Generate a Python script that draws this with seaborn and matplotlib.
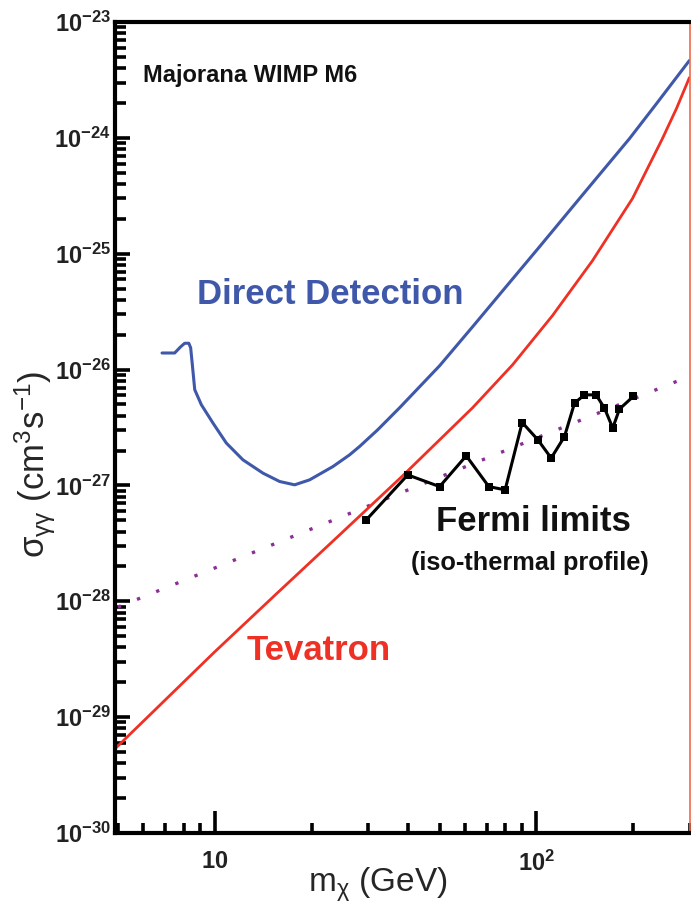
import numpy as np
import pandas as pd
import matplotlib
matplotlib.use('Agg')
import matplotlib.pyplot as plt
import matplotlib.ticker as mticker
import seaborn as sns

# curves (m in GeV, sigma in cm^3 s^-1)
dd_mass = [6.86, 7.51, 7.84, 8.07, 8.31, 8.42, 8.51, 8.67, 9.09, 9.88, 10.87, 12.24,
           14.13, 15.92, 17.72, 19.72, 23.3, 26.26, 28.2, 32.1, 37.55, 50.0, 63.3,
           82.4, 102.2, 136.0, 194.5, 236.0, 298.7]
dd_sigma = [1.39e-26, 1.39e-26, 1.574e-26, 1.687e-26, 1.687e-26, 1.542e-26, 1.146e-26,
            6.70e-27, 4.97e-27, 3.45e-27, 2.32e-27, 1.663e-27, 1.276e-27, 1.081e-27,
            1.012e-27, 1.117e-27, 1.455e-27, 1.837e-27, 2.168e-27, 3.02e-27, 4.68e-27,
            1.079e-26, 2.34e-26, 5.62e-26, 1.148e-25, 2.99e-25, 9.84e-25, 1.972e-24,
            4.65e-24]

tev_mass = [4.93, 10.0, 15.57, 24.44, 38.37, 47.5, 63.3, 84.3, 112.1, 149.3, 198.7,
            246.2, 272.2, 298.7]
tev_sigma = [5.42e-30, 3.66e-29, 1.163e-28, 3.74e-28, 1.21e-27, 2.154e-27, 4.68e-27,
             1.10e-26, 2.92e-26, 8.71e-26, 2.99e-25, 9.84e-25, 1.786e-24, 3.31e-24]

fermi_mass = [29.6, 39.8, 50.0, 60.5, 71.1, 79.9, 90.3, 101.0, 111.1, 122.2, 131.3,
              141.0, 153.2, 162.6, 172.6, 181.1, 200.0]
fermi_sigma = [5.05e-28, 1.233e-27, 9.77e-28, 1.803e-27, 9.77e-28, 9.16e-28, 3.49e-27,
               2.477e-27, 1.722e-27, 2.642e-27, 5.14e-27, 6.05e-27, 6.05e-27, 4.66e-27,
               3.13e-27, 4.56e-27, 5.87e-27]

relic_mass = [5.0, 300.0]
relic_sigma = [8.9e-29, 8.8e-27]

y_ticks = [1e-30, 1e-29, 1e-28, 1e-27, 1e-26, 1e-25, 1e-24, 1e-23]
x_ticks = [10, 100]
x_ticklabels = [r'$\mathbf{10}$', r'$\mathbf{10^2}$']

blue = '#3f58aa'
red = '#ee3124'
purple = '#8b2f97'

sns.set_style('ticks')
plt.rcParams['font.family'] = ['Liberation Sans', 'DejaVu Sans']
plt.rcParams['mathtext.fontset'] = 'custom'
plt.rcParams['mathtext.rm'] = 'Liberation Sans'
plt.rcParams['mathtext.it'] = 'Liberation Sans:italic'
plt.rcParams['mathtext.bf'] = 'Liberation Sans:bold'
plt.rcParams['mathtext.default'] = 'regular'

fig = plt.figure(figsize=(6.91, 9.15), dpi=100)
ax = fig.add_axes([115 / 691, 1 - 833 / 915, 575 / 691, 811 / 915])
ax.set_xscale('log')
ax.set_yscale('log')

sns.lineplot(x=relic_mass, y=relic_sigma, color=purple, lw=2.4,
             linestyle=(0, (1, 5.2)), ax=ax)
sns.lineplot(x=dd_mass, y=dd_sigma, color=blue, lw=2.2, sort=False, ax=ax)
sns.lineplot(x=tev_mass, y=tev_sigma, color=red, lw=2.0, ax=ax)
sns.lineplot(x=fermi_mass, y=fermi_sigma, color='black', lw=2.2, marker='s',
             markersize=5.5, markeredgewidth=0, ax=ax)

ax.set_xlim(4.9, 300)
ax.set_ylim(1e-30, 1e-23)

ax.xaxis.set_major_locator(mticker.FixedLocator(x_ticks))
ax.xaxis.set_major_formatter(mticker.FixedFormatter(x_ticklabels))
ax.xaxis.set_minor_locator(mticker.LogLocator(base=10, subs=np.arange(2, 10)))
ax.xaxis.set_minor_formatter(mticker.NullFormatter())
ax.yaxis.set_major_locator(mticker.FixedLocator(y_ticks))
ax.yaxis.set_major_formatter(mticker.FuncFormatter(
    lambda v, pos: r'$\mathbf{10^{%d}}$' % round(np.log10(v))))
ax.yaxis.set_minor_locator(mticker.LogLocator(base=10, subs=np.arange(2, 10), numticks=20))
ax.yaxis.set_minor_formatter(mticker.NullFormatter())

ax.tick_params(axis='both', which='both', direction='in', width=2.6, colors='black')
ax.tick_params(axis='y', which='major', length=11, pad=3, labelsize=17)
ax.tick_params(axis='y', which='minor', length=8)
ax.tick_params(axis='x', which='major', length=16, pad=13, labelsize=17)
ax.tick_params(axis='x', which='minor', length=7)
for lab in ax.get_yticklabels() + ax.get_xticklabels():
    lab.set_color('#222222')

for side in ['left', 'bottom', 'top']:
    ax.spines[side].set_linewidth(3)
    ax.spines[side].set_color('black')
ax.spines['right'].set_linewidth(1.2)
ax.spines['right'].set_color('#f06a4a')

ax.set_xlabel(r'm$_\chi$ (GeV)', fontsize=24)
ax.set_ylabel(r'$\sigma_{\gamma\gamma}$ (cm$^3$s$^{-1}$)', fontsize=25)
ax.xaxis.set_label_coords(0.457, -0.064)
ax.xaxis.label.set_va('center')
ax.yaxis.set_label_coords(-0.139, 0.454)
ax.yaxis.label.set_va('center')

ax.text(0.0487, 0.9346, 'Majorana WIMP M6', transform=ax.transAxes, fontsize=17,
        fontweight='bold', ha='left', va='center', color='#111111')
ax.text(0.1426, 0.6634, 'Direct Detection', transform=ax.transAxes, fontsize=25,
        fontweight='bold', ha='left', va='center', color=blue)
ax.text(0.2296, 0.2256, 'Tevatron', transform=ax.transAxes, fontsize=25,
        fontweight='bold', ha='left', va='center', color=red)
ax.text(0.727, 0.3835, 'Fermi limits', transform=ax.transAxes, fontsize=25,
        fontweight='bold', ha='center', va='center', color='#111111')
ax.text(0.722, 0.333, '(iso-thermal profile)', transform=ax.transAxes, fontsize=18.3,
        fontweight='bold', ha='center', va='center', color='#111111')

fig.savefig('out.png', dpi=100)
